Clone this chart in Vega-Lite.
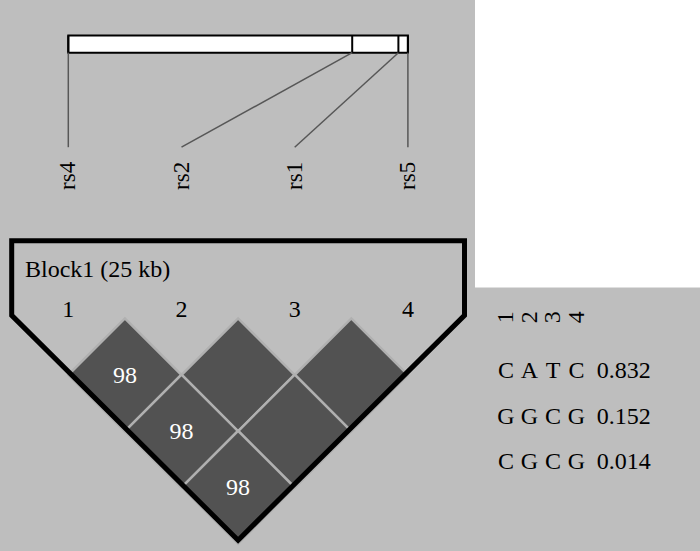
{
  "$schema": "https://vega.github.io/schema/vega-lite/v6.json",
  "width": 700,
  "height": 551,
  "autosize": {"type": "fit", "contains": "padding"},
  "padding": 0,
  "background": "#bebebe",
  "config": {"view": {"stroke": null}, "text": {"font": "Liberation Serif", "color": "black"}},
  "datasets": {
    "markers": [
      {"marker": "rs4", "index": 1, "kb": 0},
      {"marker": "rs2", "index": 2, "kb": 20.9},
      {"marker": "rs1", "index": 3, "kb": 24.3},
      {"marker": "rs5", "index": 4, "kb": 25}
    ],
    "pairs": [
      {"m1": 1, "m2": 2, "dprime": 98},
      {"m1": 2, "m2": 3, "dprime": 100},
      {"m1": 3, "m2": 4, "dprime": 100},
      {"m1": 1, "m2": 3, "dprime": 98},
      {"m1": 2, "m2": 4, "dprime": 100},
      {"m1": 1, "m2": 4, "dprime": 98}
    ],
    "blocks": [
      {"block": "Block1", "span_kb": 25, "first": 1, "last": 4, "label": "Block1 (25 kb)"}
    ],
    "alleles": [
      {"hap": 1, "marker": 1, "allele": "C"},
      {"hap": 1, "marker": 2, "allele": "A"},
      {"hap": 1, "marker": 3, "allele": "T"},
      {"hap": 1, "marker": 4, "allele": "C"},
      {"hap": 2, "marker": 1, "allele": "G"},
      {"hap": 2, "marker": 2, "allele": "G"},
      {"hap": 2, "marker": 3, "allele": "C"},
      {"hap": 2, "marker": 4, "allele": "G"},
      {"hap": 3, "marker": 1, "allele": "C"},
      {"hap": 3, "marker": 2, "allele": "G"},
      {"hap": 3, "marker": 3, "allele": "C"},
      {"hap": 3, "marker": 4, "allele": "G"}
    ],
    "haps": [
      {"hap": 1, "haplotype": "CATC", "freq": 0.832},
      {"hap": 2, "haplotype": "GGCG", "freq": 0.152},
      {"hap": 3, "haplotype": "CGCG", "freq": 0.014}
    ]
  },
  "layer": [
    {
      "layer": [
        {
          "data": {"values": [{}]},
          "mark": {"type": "rect", "fill": "white"},
          "encoding": {
            "x": {"datum": 4.5928, "type": "quantitative", "scale": {"domain": [0.39664, 6.58039], "nice": false, "zero": false}, "axis": null},
            "x2": {"datum": 6.58039},
            "y": {"datum": -5.67257, "type": "quantitative", "scale": {"domain": [-5.67257, 4.07965], "nice": false, "zero": false, "reverse": true}, "axis": null},
            "y2": {"datum": -0.5575}
          }
        },
        {
          "data": {"name": "blocks"},
          "mark": {"type": "rect", "fill": "white", "stroke": "black", "strokeWidth": 2},
          "encoding": {
            "x": {"field": "first", "type": "quantitative", "scale": {"domain": [0.39664, 6.58039], "nice": false, "zero": false}, "axis": null},
            "x2": {"field": "last"},
            "y": {"datum": -5.042, "type": "quantitative", "scale": {"domain": [-5.67257, 4.07965], "nice": false, "zero": false, "reverse": true}, "axis": null},
            "y2": {"datum": -4.735}
          }
        },
        {
          "data": {"name": "markers"},
          "transform": [{"calculate": "1 + 3 * datum.kb / 25", "as": "bx"}],
          "mark": {"type": "rule", "color": "black", "strokeWidth": 2},
          "encoding": {
            "x": {"field": "bx", "type": "quantitative", "scale": {"domain": [0.39664, 6.58039], "nice": false, "zero": false}, "axis": null},
            "y": {"datum": -5.042, "type": "quantitative", "scale": {"domain": [-5.67257, 4.07965], "nice": false, "zero": false, "reverse": true}, "axis": null},
            "y2": {"datum": -4.735}
          }
        },
        {
          "data": {"name": "markers"},
          "transform": [{"calculate": "1 + 3 * datum.kb / 25", "as": "bx"}],
          "mark": {"type": "rule", "color": "#575757", "strokeWidth": 1.5},
          "encoding": {
            "x": {"field": "bx", "type": "quantitative", "scale": {"domain": [0.39664, 6.58039], "nice": false, "zero": false}, "axis": null},
            "x2": {"field": "index"},
            "y": {"datum": -4.735, "type": "quantitative", "scale": {"domain": [-5.67257, 4.07965], "nice": false, "zero": false, "reverse": true}, "axis": null},
            "y2": {"datum": -3.0531}
          }
        },
        {
          "data": {"name": "markers"},
          "mark": {"type": "text", "angle": 270, "align": "left", "baseline": "middle", "fontSize": 23},
          "encoding": {
            "x": {"field": "index", "type": "quantitative", "scale": {"domain": [0.39664, 6.58039], "nice": false, "zero": false}, "axis": null},
            "y": {"datum": -2.292, "type": "quantitative", "scale": {"domain": [-5.67257, 4.07965], "nice": false, "zero": false, "reverse": true}, "axis": null},
            "text": {"field": "marker", "type": "nominal"}
          }
        },
        {
          "data": {"name": "pairs"},
          "transform": [
            {"calculate": "(datum.m1 + datum.m2) / 2", "as": "mid"},
            {"calculate": "datum.m2 - datum.m1", "as": "dist"}
          ],
          "mark": {"type": "point", "shape": "diamond", "size": 12769, "filled": true, "fill": "#525252", "stroke": "#b0b0b0", "strokeWidth": 2.5, "opacity": 1},
          "encoding": {
            "x": {"field": "mid", "type": "quantitative", "scale": {"domain": [0.39664, 6.58039], "nice": false, "zero": false}, "axis": null},
            "y": {"field": "dist", "type": "quantitative", "scale": {"domain": [-5.67257, 4.07965], "nice": false, "zero": false, "reverse": true}, "axis": null}
          }
        },
        {
          "data": {"name": "pairs"},
          "transform": [
            {"filter": "datum.dprime < 100"},
            {"calculate": "(datum.m1 + datum.m2) / 2", "as": "mid"},
            {"calculate": "datum.m2 - datum.m1", "as": "dist"}
          ],
          "mark": {"type": "text", "color": "white", "fontSize": 24, "align": "center", "baseline": "middle", "dy": 1},
          "encoding": {
            "x": {"field": "mid", "type": "quantitative", "scale": {"domain": [0.39664, 6.58039], "nice": false, "zero": false}, "axis": null},
            "y": {"field": "dist", "type": "quantitative", "scale": {"domain": [-5.67257, 4.07965], "nice": false, "zero": false, "reverse": true}, "axis": null},
            "text": {"field": "dprime", "type": "nominal"}
          }
        },
        {
          "data": {"name": "blocks"},
          "transform": [
            {"calculate": "[(datum.first + datum.last) / 2, datum.last + 0.5, datum.last + 0.5, (datum.first + datum.last) / 2, datum.first - 0.5, datum.first - 0.5, (datum.first + datum.last) / 2]", "as": "vx"},
            {"calculate": "[-1.389, -1.389, -0.06, datum.last - datum.first + 1 - 0.06, -0.06, -1.389, -1.389]", "as": "vy"},
            {"calculate": "[0, 1, 2, 3, 4, 5, 6]", "as": "vo"},
            {"flatten": ["vx", "vy", "vo"]}
          ],
          "mark": {"type": "line", "color": "black", "strokeWidth": 5, "strokeJoin": "miter"},
          "encoding": {
            "x": {"field": "vx", "type": "quantitative", "scale": {"domain": [0.39664, 6.58039], "nice": false, "zero": false}, "axis": null},
            "y": {"field": "vy", "type": "quantitative", "scale": {"domain": [-5.67257, 4.07965], "nice": false, "zero": false, "reverse": true}, "axis": null},
            "order": {"field": "vo", "type": "quantitative"}
          }
        },
        {
          "data": {"name": "blocks"},
          "mark": {"type": "text", "align": "left", "baseline": "alphabetic", "fontSize": 24, "dx": -43.3},
          "encoding": {
            "x": {"field": "first", "type": "quantitative", "scale": {"domain": [0.39664, 6.58039], "nice": false, "zero": false}, "axis": null},
            "y": {"datum": -0.7469, "type": "quantitative", "scale": {"domain": [-5.67257, 4.07965], "nice": false, "zero": false, "reverse": true}, "axis": null},
            "text": {"field": "label", "type": "nominal"}
          }
        },
        {
          "data": {"name": "markers"},
          "mark": {"type": "text", "align": "center", "baseline": "alphabetic", "fontSize": 24},
          "encoding": {
            "x": {"field": "index", "type": "quantitative", "scale": {"domain": [0.39664, 6.58039], "nice": false, "zero": false}, "axis": null},
            "y": {"datum": -0.02655, "type": "quantitative", "scale": {"domain": [-5.67257, 4.07965], "nice": false, "zero": false, "reverse": true}, "axis": null},
            "text": {"field": "index", "type": "nominal"}
          }
        }
      ]
    },
    {
      "layer": [
        {
          "data": {"name": "markers"},
          "mark": {"type": "text", "angle": 270, "align": "center", "baseline": "middle", "fontSize": 24},
          "encoding": {
            "x": {"field": "index", "type": "quantitative", "scale": {"domain": [-20.5319, 9.2553], "nice": false, "zero": false}, "axis": null},
            "y": {"datum": -0.32609, "type": "quantitative", "scale": {"domain": [-7.26087, 4.71739], "nice": false, "zero": false, "reverse": true}, "axis": null},
            "text": {"field": "index", "type": "nominal"}
          }
        },
        {
          "data": {"name": "alleles"},
          "mark": {"type": "text", "align": "center", "baseline": "alphabetic", "fontSize": 24},
          "encoding": {
            "x": {"field": "marker", "type": "quantitative", "scale": {"domain": [-20.5319, 9.2553], "nice": false, "zero": false}, "axis": null},
            "y": {"field": "hap", "type": "quantitative", "scale": {"domain": [-7.26087, 4.71739], "nice": false, "zero": false, "reverse": true}, "axis": null},
            "text": {"field": "allele", "type": "nominal"}
          }
        },
        {
          "data": {"name": "haps"},
          "mark": {"type": "text", "align": "left", "baseline": "alphabetic", "fontSize": 24},
          "encoding": {
            "x": {"datum": 4.8596, "type": "quantitative", "scale": {"domain": [-20.5319, 9.2553], "nice": false, "zero": false}, "axis": null},
            "y": {"field": "hap", "type": "quantitative", "scale": {"domain": [-7.26087, 4.71739], "nice": false, "zero": false, "reverse": true}, "axis": null},
            "text": {"field": "freq", "type": "quantitative", "format": ".3f"}
          }
        }
      ]
    }
  ],
  "resolve": {"scale": {"x": "independent", "y": "independent"}}
}
